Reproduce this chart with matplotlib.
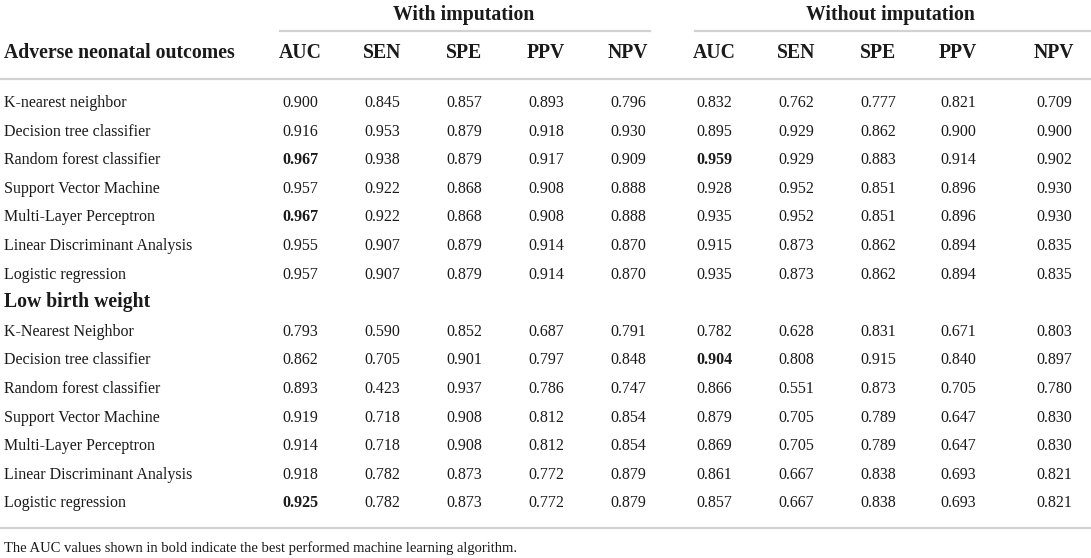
import matplotlib.pyplot as plt

plt.rcParams['font.family'] = ['Liberation Serif', 'DejaVu Serif']

metrics = ["AUC", "SEN", "SPE", "PPV", "NPV"]
groups = ["With imputation", "Without imputation"]
sections = ["Adverse neonatal outcomes", "Low birth weight"]

models_adverse = ["K-nearest neighbor", "Decision tree classifier", "Random forest classifier",
                  "Support Vector Machine", "Multi-Layer Perceptron",
                  "Linear Discriminant Analysis", "Logistic regression"]
models_lbw = ["K-Nearest Neighbor", "Decision tree classifier", "Random forest classifier",
              "Support Vector Machine", "Multi-Layer Perceptron",
              "Linear Discriminant Analysis", "Logistic regression"]

# columns: AUC SEN SPE PPV NPV (with) | AUC SEN SPE PPV NPV (without)
values_adverse = [
    ["0.900", "0.845", "0.857", "0.893", "0.796", "0.832", "0.762", "0.777", "0.821", "0.709"],
    ["0.916", "0.953", "0.879", "0.918", "0.930", "0.895", "0.929", "0.862", "0.900", "0.900"],
    ["0.967", "0.938", "0.879", "0.917", "0.909", "0.959", "0.929", "0.883", "0.914", "0.902"],
    ["0.957", "0.922", "0.868", "0.908", "0.888", "0.928", "0.952", "0.851", "0.896", "0.930"],
    ["0.967", "0.922", "0.868", "0.908", "0.888", "0.935", "0.952", "0.851", "0.896", "0.930"],
    ["0.955", "0.907", "0.879", "0.914", "0.870", "0.915", "0.873", "0.862", "0.894", "0.835"],
    ["0.957", "0.907", "0.879", "0.914", "0.870", "0.935", "0.873", "0.862", "0.894", "0.835"],
]
values_lbw = [
    ["0.793", "0.590", "0.852", "0.687", "0.791", "0.782", "0.628", "0.831", "0.671", "0.803"],
    ["0.862", "0.705", "0.901", "0.797", "0.848", "0.904", "0.808", "0.915", "0.840", "0.897"],
    ["0.893", "0.423", "0.937", "0.786", "0.747", "0.866", "0.551", "0.873", "0.705", "0.780"],
    ["0.919", "0.718", "0.908", "0.812", "0.854", "0.879", "0.705", "0.789", "0.647", "0.830"],
    ["0.914", "0.718", "0.908", "0.812", "0.854", "0.869", "0.705", "0.789", "0.647", "0.830"],
    ["0.918", "0.782", "0.873", "0.772", "0.879", "0.861", "0.667", "0.838", "0.693", "0.821"],
    ["0.925", "0.782", "0.873", "0.772", "0.879", "0.857", "0.667", "0.838", "0.693", "0.821"],
]
# (row, col) of bold cells
bold_adverse = [(2, 0), (4, 0), (2, 5)]
bold_lbw = [(6, 0), (1, 5)]

footnote = "The AUC values shown in bold indicate the best performed machine learning algorithm."

W, H = 1091, 558
fig = plt.figure(figsize=(W / 100, H / 100), dpi=100)
ax = fig.add_axes([0, 0, 1, 1])
ax.set_xlim(0, W)
ax.set_ylim(H, 0)
ax.axis("off")

col_x = [300, 382, 464, 546, 628, 714, 796, 878, 958, 1054]
line_col = "#d2d2d2"
txt_col = "#1a1a1a"
body_fs = 11.5
head_fs = 14.2

# group headers + rules under them
ax.text(464, 20, groups[0], ha="center", va="baseline", fontsize=head_fs, fontweight="bold", color=txt_col)
ax.text(890, 20, groups[1], ha="center", va="baseline", fontsize=head_fs, fontweight="bold", color=txt_col)
ax.plot([280, 650], [31, 31], color=line_col, lw=1.6)
ax.plot([695, W], [31, 31], color=line_col, lw=1.6)

# column headers
ax.text(4, 58, sections[0], ha="left", va="baseline", fontsize=head_fs, fontweight="bold", color=txt_col)
for i, x in enumerate(col_x):
    ax.text(x, 58, metrics[i % 5], ha="center", va="baseline", fontsize=head_fs, fontweight="bold", color=txt_col)
ax.plot([0, W], [79, 79], color=line_col, lw=1.6)

row_h = 28.6
y = 107
for r, name in enumerate(models_adverse):
    ax.text(4, y, name, ha="left", va="baseline", fontsize=body_fs, color=txt_col)
    for c, v in enumerate(values_adverse[r]):
        w = "bold" if (r, c) in bold_adverse else "normal"
        ax.text(col_x[c], y, v, ha="center", va="baseline", fontsize=body_fs, fontweight=w, color=txt_col)
    y += row_h

ax.text(4, y, sections[1], ha="left", va="baseline", fontsize=head_fs, fontweight="bold", color=txt_col)
y += row_h
for r, name in enumerate(models_lbw):
    ax.text(4, y, name, ha="left", va="baseline", fontsize=body_fs, color=txt_col)
    for c, v in enumerate(values_lbw[r]):
        w = "bold" if (r, c) in bold_lbw else "normal"
        ax.text(col_x[c], y, v, ha="center", va="baseline", fontsize=body_fs, fontweight=w, color=txt_col)
    y += row_h

ax.plot([0, W], [528, 528], color=line_col, lw=1.6)
ax.text(4, 552, footnote, ha="left", va="baseline", fontsize=10.5, color=txt_col)

fig.savefig("out.png", dpi=100)
